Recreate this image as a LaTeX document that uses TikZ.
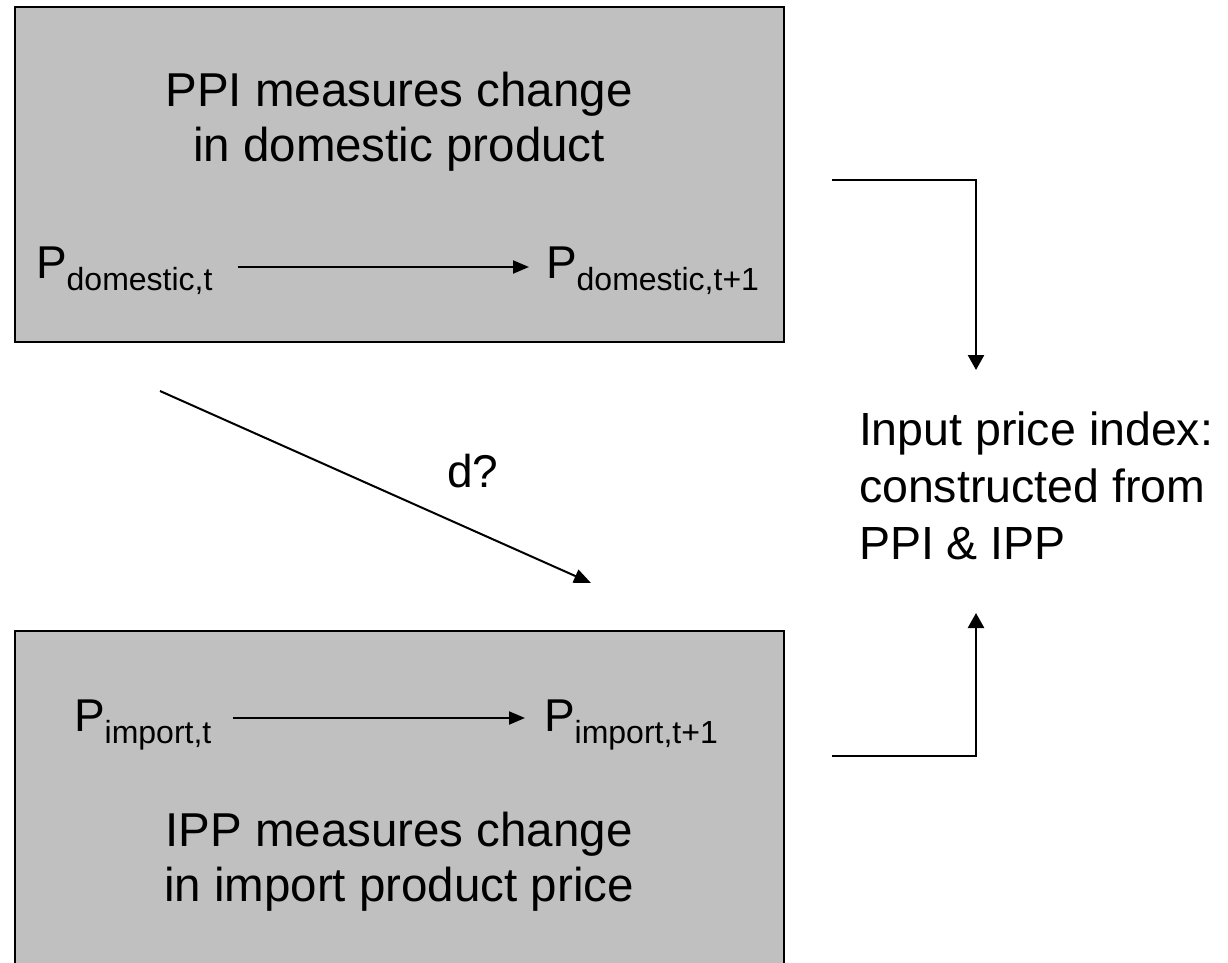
\documentclass[tikz,border=0pt]{standalone}
\usepackage{fontspec}
\setmainfont{Liberation Sans}
\usetikzlibrary{arrows.meta}
\definecolor{boxgray}{RGB}{192,192,192}
\newcommand\Psub[1]{P\raisebox{-12pt}{\fontsize{32}{36}\selectfont #1}}
\begin{document}
\begin{tikzpicture}[x=1pt,y=-1pt,
  box/.style={draw=black, line width=2.2pt, fill=boxgray, inner sep=0pt, outer sep=0pt, anchor=north west},
  txt/.style={inner sep=0pt, outer sep=0pt, font=\fontsize{46}{54}\selectfont},
  big/.style={txt, align=center, anchor=base, font=\fontsize{47.5}{55}\selectfont},
  flow/.style={line width=2pt, -{Triangle[length=16pt,width=13pt]}},
  link/.style={line width=2.5pt, -{Triangle[length=15pt,width=16pt]}}]
\useasboundingbox (0,0) rectangle (1228,963);
\fill[white] (0,0) rectangle (1228,963);
% boxes
\node[box, minimum width=769pt, minimum height=335pt] (ppibox) at (15,7) {};
\node[box, minimum width=769pt, minimum height=350pt] (ippbox) at (15,631) {};
% box texts (base anchor = baseline of the last line)
\node[big] (ppi) at (399,161) {PPI measures change\\in domestic product};
\node[big] (ipp) at (399,901) {IPP measures change\\in import product price};
% prices
\node[txt, anchor=base west] (pdt) at (36,278) {\Psub{domestic,t}};
\node[txt, anchor=base west] (pdt1) at (546,278) {\Psub{domestic,t+1}};
\node[txt, anchor=base west] (pit) at (74,731) {\Psub{import,t}};
\node[txt, anchor=base west] (pit1) at (544,731) {\Psub{import,t+1}};
\draw[flow] ([shift={(25,-11)}]pdt.base east) -- ([shift={(-17,-11)}]pdt1.base west);
\draw[flow] ([shift={(22,-13)}]pit.base east) -- ([shift={(-19,-13)}]pit1.base west);
% diagonal
\coordinate (d1) at (160,391);
\coordinate (d2) at (591,583);
\draw[flow, -{Triangle[length=17pt,width=14pt]}] (d1) -- (d2);
\node[txt, anchor=base west] (dq) at (447,487) {d?};
% right text
\node[txt, align=left, anchor=base west, font=\fontsize{46.5}{57}\selectfont] (ipi) at (859,559)
  {Input price index:\\constructed from\\PPI \& IPP};
% right connectors
\coordinate (a1) at (832,180);
\coordinate (a2) at (976,370);
\draw[link] (a1) -| (a2);
\coordinate (b1) at (832,756);
\coordinate (b2) at (976,613);
\draw[link] (b1) -| (b2);
\end{tikzpicture}
\end{document}
